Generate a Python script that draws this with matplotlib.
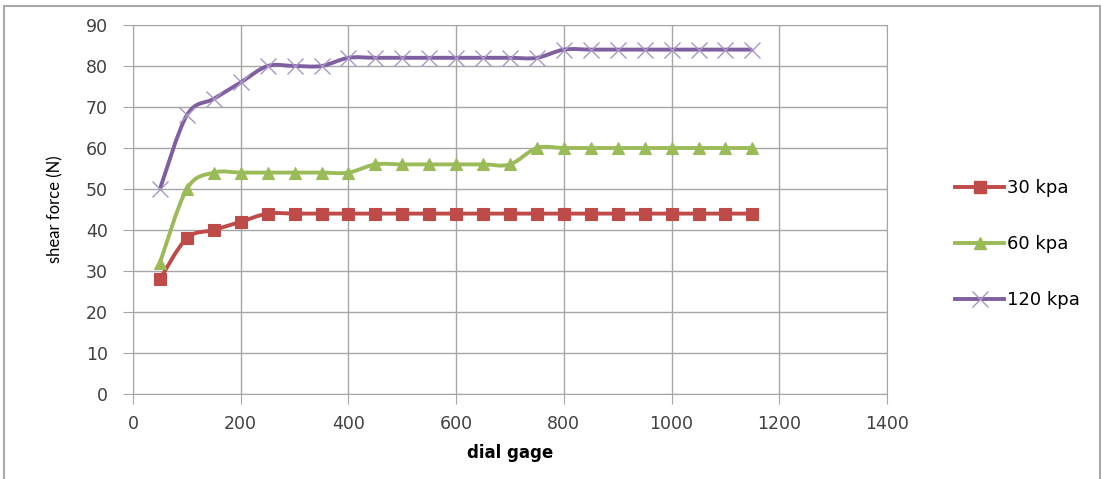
import matplotlib.pyplot as plt
from matplotlib.path import Path
from matplotlib.patches import PathPatch, Rectangle
from matplotlib.lines import Line2D

plt.rcParams['font.family'] = ['DejaVu Sans']

dial_gage = [50, 100, 150, 200, 250, 300, 350, 400, 450, 500, 550, 600,
             650, 700, 750, 800, 850, 900, 950, 1000, 1050, 1100, 1150]

force_30 = [28, 38, 40, 42, 44, 44, 44, 44, 44, 44, 44, 44,
            44, 44, 44, 44, 44, 44, 44, 44, 44, 44, 44]
force_60 = [32, 50, 54, 54, 54, 54, 54, 54, 56, 56, 56, 56,
            56, 56, 60, 60, 60, 60, 60, 60, 60, 60, 60]
force_120 = [50, 68, 72, 76, 80, 80, 80, 82, 82, 82, 82, 82,
             82, 82, 82, 84, 84, 84, 84, 84, 84, 84, 84]

labels = ['30 kpa', '60 kpa', '120 kpa']


def smooth_path(xs, ys):
    # catmull-rom segments written as cubic bezier pieces
    pts = list(zip(xs, ys))
    n = len(pts)
    verts = [pts[0]]
    codes = [Path.MOVETO]
    for i in range(n - 1):
        p0 = pts[i - 1] if i > 0 else pts[i]
        p1 = pts[i]
        p2 = pts[i + 1]
        p3 = pts[i + 2] if i + 2 < n else pts[i + 1]
        c1 = (p1[0] + (p2[0] - p0[0]) / 6, p1[1] + (p2[1] - p0[1]) / 6)
        c2 = (p2[0] - (p3[0] - p1[0]) / 6, p2[1] - (p3[1] - p1[1]) / 6)
        verts += [c1, c2, p2]
        codes += [Path.CURVE4] * 3
    return Path(verts, codes)


fig = plt.figure(figsize=(11.02, 4.79), dpi=100)
ax = fig.add_axes([0.1207, 0.1775, 0.6842, 0.7703])

series = [
    (force_30, '#BE4B48', 's', 8, '#BE4B48'),
    (force_60, '#9BBB59', '^', 8.5, '#9BBB59'),
    (force_120, '#7F5FA0', 'x', 11, '#A897C5'),
]

handles = []
for (vals, col, mk, ms, mcol), lab in zip(series, labels):
    ax.add_patch(PathPatch(smooth_path(dial_gage, vals), facecolor='none',
                           edgecolor=col, lw=2.8, zorder=3))
    ax.plot(dial_gage, vals, linestyle='none', marker=mk, markersize=ms,
            color=mcol, markeredgecolor=mcol, markeredgewidth=1.0 if mk == 'x' else 0.8,
            zorder=4)
    handles.append(Line2D([], [], color=col, lw=2.8, marker=mk, markersize=ms,
                          markerfacecolor=mcol, markeredgecolor=mcol))

ax.set_xlim(0, 1400)
ax.set_ylim(0, 90)
ax.set_xticks(range(0, 1401, 200))
ax.set_yticks(range(0, 91, 10))
ax.grid(True, color='#A6A6A6', lw=1.0)
ax.set_axisbelow(True)
for sp in ax.spines.values():
    sp.set_color('#A6A6A6')
ax.tick_params(axis='both', direction='out', length=7, color='#A6A6A6',
               labelsize=12.5, labelcolor='#404040')
ax.tick_params(axis='y', pad=11)
ax.tick_params(axis='x', pad=8)

ax.set_xlabel('dial gage', fontsize=12, fontweight='bold', labelpad=8)
ax.set_ylabel('shear force (N)', fontsize=12, family='Lato', labelpad=16)

fig.legend(handles, labels, loc='center left', bbox_to_anchor=(0.852, 0.49),
           frameon=False, fontsize=13, labelspacing=2.1, handlelength=2.7,
           handletextpad=0.15)

fig.patches.append(Rectangle((0.004, -0.05), 0.994, 1.037, transform=fig.transFigure,
                             fill=False, edgecolor='#A8A8A8', lw=1.5))

fig.savefig('out.png', dpi=100)
